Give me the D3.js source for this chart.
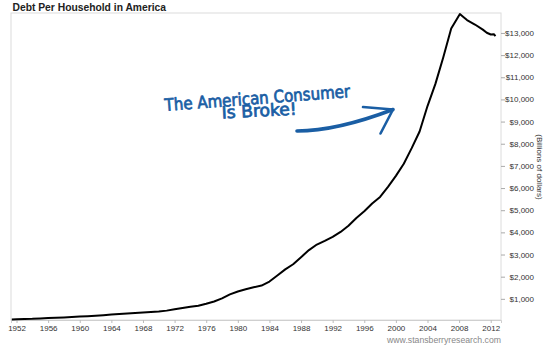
<!DOCTYPE html>
<html><head><meta charset="utf-8">
<script src="https://cdn.jsdelivr.net/npm/d3@7"></script>
<style>html,body{margin:0;padding:0;background:#fff;}svg{display:block;}</style>
</head><body>
<script>
// ---- data (billions of dollars) ----
const years = [1951.4,1952,1953,1954,1955,1956,1957,1958,1959,1960,1961,1962,1963,1964,1965,1966,1967,1968,1969,1970,
  1971,1972,1973,1974,1975,1976,1977,1978,1979,1980,1981,1982,1983,1984,1985,1986,1987,1988,1989,1990,
  1991,1992,1993,1994,1995,1996,1997,1998,1999,2000,2001,2002,2003,2004,2005,2006,2007,2008.1,2008.5,2009,
  2010,2011,2011.5,2012,2012.4,2012.6];
const debt = [70,80,90,100,118,130,145,158,178,198,216,238,265,292,315,338,360,385,410,430,
  468,530,585,640,690,780,880,1020,1200,1330,1430,1520,1600,1780,2050,2330,2560,2880,3200,3450,
  3620,3800,4020,4300,4650,4950,5300,5600,6050,6550,7100,7800,8550,9700,10700,11900,13200,13850,13730,13580,
  13380,13150,13010,12930,12940,12860];
const xTickYears = [1952,1956,1960,1964,1968,1972,1976,1980,1984,1988,1992,1996,2000,2004,2008,2012];
const yTickValues = [1000,2000,3000,4000,5000,6000,7000,8000,9000,10000,11000,12000,13000];
const titleText = "Debt Per Household in America";
const axisTitle = "(Billions of dollars)";
const noteLines = ["The American Consumer", "Is Broke!"];
const sourceText = "www.stansberryresearch.com";

const W = 550, H = 345;
const L = 11, R = 501, T = 13, B = 320;
const svg = d3.select("body").append("svg").attr("width", W).attr("height", H);

const x = d3.scaleLinear().domain([1951.3, 2013.3]).range([L, R]);
const y = d3.scaleLinear().domain([0, 13900]).range([321, T]);

// title
svg.append("text").attr("x", 12.5).attr("y", 10.8)
  .attr("font-family", "Liberation Sans, Arial, sans-serif").attr("font-weight", "bold")
  .attr("font-size", 10.3).attr("fill", "#222").text(titleText);

// frame
svg.append("rect").attr("x", L).attr("y", T).attr("width", R - L).attr("height", B - T)
  .attr("fill", "none").attr("stroke", "#dcdcdc").attr("stroke-width", 1);

// x axis
const xAxis = d3.axisBottom(x).tickValues(xTickYears).tickFormat(d3.format("d")).tickSize(3).tickPadding(2);
const gx = svg.append("g").attr("transform", `translate(0,${B})`).call(xAxis);
gx.select(".domain").attr("stroke", "#cfcfcf");
gx.selectAll(".tick line").attr("stroke", "#bbb");
gx.selectAll("text").attr("font-family", "Liberation Sans, Arial, sans-serif").attr("font-size", 8).attr("fill", "#333");

// y axis (right)
const yAxis = d3.axisRight(y).tickValues(yTickValues).tickFormat(d => "$" + d3.format(",")(d)).tickSize(4).tickPadding(0);
const gy = svg.append("g").attr("transform", `translate(${R},0)`).call(yAxis);
gy.select(".domain").remove();
gy.selectAll(".tick line").attr("stroke", "#aaa");
gy.selectAll("text").attr("font-family", "Liberation Sans, Arial, sans-serif").attr("font-size", 8).attr("fill", "#333")
  .attr("text-anchor", "end").attr("x", 534 - R);

// axis title
svg.append("text").attr("transform", `translate(537,167) rotate(90)`)
  .attr("text-anchor", "middle").attr("font-family", "Liberation Sans, Arial, sans-serif")
  .attr("font-size", 8).attr("fill", "#333").text(axisTitle);

// line
const line = d3.line().x((d, i) => x(years[i])).y(d => y(d));
svg.append("path").datum(debt).attr("d", line).attr("fill", "none")
  .attr("stroke", "#000").attr("stroke-width", 2).attr("stroke-linejoin", "round");

// source
svg.append("text").attr("x", 501).attr("y", 343).attr("text-anchor", "end")
  .attr("font-family", "Liberation Sans, Arial, sans-serif").attr("font-size", 8.7).attr("fill", "#888").text(sourceText);

// annotation
const blue = "#1a5ea4";
const note = svg.append("g").attr("fill", blue).attr("stroke", blue).attr("stroke-width", 0.7)
  .attr("stroke-linejoin", "round")
  .attr("font-family", "DejaVu Sans Condensed, DejaVu Sans, sans-serif").attr("font-weight", "normal");
note.append("text").attr("transform", "translate(165,111) rotate(-4.3)")
  .attr("font-size", 17).attr("textLength", 186).attr("lengthAdjust", "spacingAndGlyphs").text(noteLines[0]);
note.append("text").attr("transform", "translate(222,118.5) rotate(-3)")
  .attr("font-size", 17).attr("textLength", 75).attr("lengthAdjust", "spacingAndGlyphs").text(noteLines[1]);

// arrow
svg.append("path").attr("d", "M297,131 C325,131 355,124 393,109.5")
  .attr("fill", "none").attr("stroke", blue).attr("stroke-width", 3.6).attr("stroke-linecap", "round");
svg.append("path").attr("d", "M363,107 L393,109.5 L380.5,133.5")
  .attr("fill", "none").attr("stroke", blue).attr("stroke-width", 2.6).attr("stroke-linecap", "round").attr("stroke-linejoin", "round");
</script>
</body></html>
